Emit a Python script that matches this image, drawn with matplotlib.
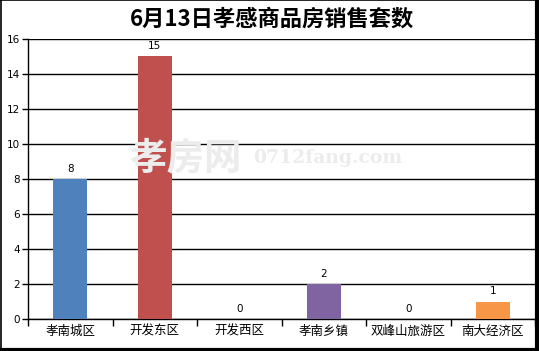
import matplotlib
matplotlib.use("Agg")
import matplotlib.pyplot as plt
from matplotlib.lines import Line2D

plt.rcParams['font.family'] = ['Noto Sans CJK SC', 'DejaVu Sans']

# data
districts = ['孝南城区', '开发东区', '开发西区', '孝南乡镇', '双峰山旅游区', '南大经济区']
sales = [8, 15, 0, 2, 0, 1]
bar_colors = ['#4F81BD', '#C0504D', '#9BBB59', '#8064A2', '#4BACC6', '#F79646']
yticks = [0, 2, 4, 6, 8, 10, 12, 14, 16]
title = '6月13日孝感商品房销售套数'

fig = plt.figure(figsize=(5.39, 3.51), dpi=100)
ax = fig.add_axes([0.052, 0.091, 0.9406, 0.798])

x = list(range(len(districts)))
ax.bar(x, sales, width=0.40, color=bar_colors, zorder=3)
for xi, v in zip(x, sales):
    ax.text(xi, v + 0.3, str(v), ha='center', va='bottom', fontsize=7.5,
            family='DejaVu Sans', zorder=4)

ax.set_xlim(-0.5, len(districts) - 0.5)
ax.set_ylim(0, 16)
ax.set_yticks(yticks)
ax.set_yticklabels([str(t) for t in yticks], fontsize=7.5, family='DejaVu Sans')
ax.set_xticks([i - 0.5 for i in range(len(districts) + 1)])
ax.set_xticklabels([])
ax.set_xticks(x, minor=True)
ax.set_xticklabels(districts, minor=True, fontsize=9)
ax.tick_params(axis='x', which='minor', length=0, pad=4)
ax.tick_params(axis='x', which='major', length=5, width=1, direction='out')
ax.tick_params(axis='y', length=4, width=1, direction='out', pad=2)

ax.grid(axis='y', color='black', linewidth=1, zorder=0)
for side in ['top', 'right']:
    ax.spines[side].set_visible(False)
ax.spines['left'].set_linewidth(1)
ax.spines['bottom'].set_linewidth(1)

fig.text(0.505, 0.945, title, ha='center', va='center', fontsize=16,
         fontweight='bold')

# faint watermark
fig.text(0.24, 0.55, '孝房网', fontsize=27, color='#ececec', ha='left',
         va='center', fontweight='bold', zorder=0)
fig.text(0.47, 0.55, '0712fang.com', fontsize=13.5, color='#ececec', ha='left',
         va='center', family='DejaVu Serif', fontweight='bold', zorder=0)

# outer frame
fig.add_artist(Line2D([0.001, 0.001], [0, 1], color='black', lw=1.2, transform=fig.transFigure))
fig.add_artist(Line2D([0, 1], [0.999, 0.999], color='black', lw=1.2, transform=fig.transFigure))
fig.add_artist(Line2D([0.996, 0.996], [0, 1], color='black', lw=3, transform=fig.transFigure))
fig.add_artist(Line2D([0, 1], [0.004, 0.004], color='black', lw=3, transform=fig.transFigure))

fig.savefig('out.png', dpi=100)
